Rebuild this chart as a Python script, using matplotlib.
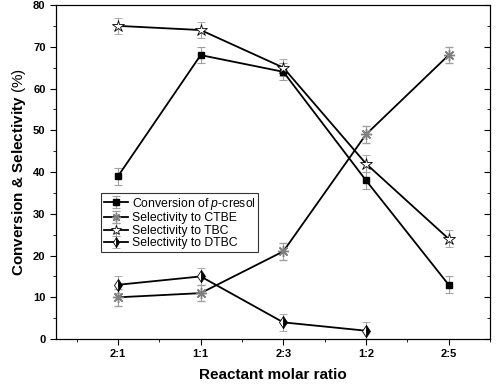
import numpy as np
import matplotlib.pyplot as plt
from matplotlib.ticker import MultipleLocator

plt.rcParams['font.family'] = ['Liberation Sans', 'DejaVu Sans']
plt.rcParams['mathtext.fontset'] = 'custom'
plt.rcParams['mathtext.rm'] = 'Liberation Sans'
plt.rcParams['mathtext.it'] = 'Liberation Sans:italic'
plt.rcParams['mathtext.bf'] = 'Liberation Sans:bold'

ratios = ['2:1', '1:1', '2:3', '1:2', '2:5']
conversion = [39, 68, 64, 38, 13]
conv_err = [2, 2, 2, 2, 2]
ctbe = [10, 11, 21, 49, 68]
ctbe_err = [2, 2, 2, 2, 2]
tbc = [75, 74, 65, 42, 24]
tbc_err = [2, 2, 2, 2, 2]
dtbc = [13, 15, 4, 2]
dtbc_err = [2, 2, 2, 2]

x = np.arange(1, len(ratios) + 1)

fig = plt.figure(figsize=(5, 3.84), dpi=100)
ax = fig.add_axes([0.112, 0.117, 0.868, 0.870])

ekw = dict(ecolor='#a0a0a0', elinewidth=0.8, capsize=3, capthick=0.8, color='black', lw=1.3)
ax.errorbar(x, conversion, yerr=conv_err, marker='s', ms=5, mfc='black', mec='black',
            label='Conversion of $\\it{p}$-cresol', **ekw)
ax.errorbar(x, ctbe, yerr=ctbe_err, marker=(8, 2, 0), ms=8, mec='#808080', mew=1.0,
            label='Selectivity to CTBE', **ekw)
ax.errorbar(x, tbc, yerr=tbc_err, marker='*', ms=9, mfc='white', mec='black', mew=0.6,
            label='Selectivity to TBC', **ekw)
ax.errorbar(x[:len(dtbc)], dtbc, yerr=dtbc_err, marker='d', ms=6, fillstyle='right', mfc='black',
            mfcalt='white', mec='black', mew=0.6, label='Selectivity to DTBC', **ekw)

ax.set_xlim(0.25, 5.5)
ax.set_ylim(0, 80)
ax.set_xticks(x)
ax.set_xticklabels(ratios)
ax.xaxis.set_minor_locator(MultipleLocator(0.5))
ax.yaxis.set_major_locator(MultipleLocator(10))
ax.yaxis.set_minor_locator(MultipleLocator(5))
ax.tick_params(which='both', direction='out', labelsize=8)
ax.tick_params(which='major', length=4)
ax.tick_params(which='minor', length=2)
for lbl in ax.get_xticklabels() + ax.get_yticklabels():
    lbl.set_fontweight('bold')

# inward ticks on the right axis
ax2 = ax.twinx()
ax2.set_ylim(0, 80)
ax2.yaxis.set_major_locator(MultipleLocator(10))
ax2.yaxis.set_minor_locator(MultipleLocator(5))
ax2.tick_params(which='both', direction='in', labelright=False)
ax2.tick_params(which='major', length=4)
ax2.tick_params(which='minor', length=2)

ax.set_xlabel('Reactant molar ratio', fontsize=11, fontweight='bold', labelpad=6)
ax.set_ylabel('$\\bf{Conversion\\ &\\ Selectivity}$ (%)', fontsize=11, labelpad=4)

leg = ax.legend(loc='upper left', bbox_to_anchor=(0.09, 0.455), fontsize=8.8, frameon=True,
                fancybox=False, edgecolor='black', handlelength=2, handletextpad=0.3,
                borderpad=0.2, labelspacing=0.05, markerscale=0.8)
leg.get_frame().set_linewidth(0.8)

fig.savefig('out.png', dpi=100)
